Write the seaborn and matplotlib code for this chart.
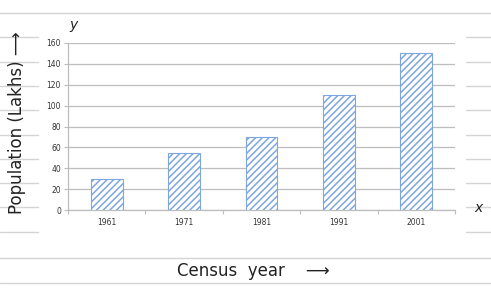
import matplotlib
matplotlib.use("Agg")
import matplotlib.pyplot as plt
import seaborn as sns
import pandas as pd
from matplotlib.lines import Line2D

years = ["1961", "1971", "1981", "1991", "2001"]
population = [30, 55, 70, 110, 150]
yticks = [0, 20, 40, 60, 80, 100, 120, 140, 160]

sns.set_style("white")
plt.rcParams["font.family"] = ["DejaVu Sans"]
plt.rcParams["hatch.linewidth"] = 1.1

df = pd.DataFrame({"year": years, "population": population})

fig = plt.figure(figsize=(4.91, 2.93), dpi=100)
fig.patch.set_facecolor("white")

# notebook ruled lines (decoration)
W, H = 491, 293
def hline(y, x0, x1):
    fig.add_artist(Line2D([x0 / W, x1 / W], [1 - y / H, 1 - y / H], color="#d4d4d4", lw=1.0, zorder=0))
hline(13, 0, 491)
hline(258, 0, 491)
hline(283, 0, 491)
for y in [37, 62, 86, 110, 135, 159, 183, 207, 232]:
    hline(y, 0, 38)
    hline(y, 466, 491)

ax = fig.add_axes([68 / W, 1 - 210 / H, (455 - 68) / W, (210 - 43) / H])
sns.barplot(data=df, x="year", y="population", color="white", width=0.41,
            edgecolor="#7ea6e0", linewidth=0.8, ax=ax, zorder=3)
for p in ax.patches:
    p.set_hatch("/////")
    p.set_facecolor("white")

ax.set_ylim(0, 160)
ax.set_xlim(-0.5, 4.5)
ax.set_yticks(yticks)
ax.set_yticklabels([str(v) for v in yticks])
ax.yaxis.grid(True, color="#bdbdbd", lw=0.9, zorder=0)
ax.set_axisbelow(True)
ax.set_xlabel("")
ax.set_ylabel("")
for s in ["top", "right"]:
    ax.spines[s].set_visible(False)
ax.spines["left"].set_color("#bdbdbd")
ax.spines["bottom"].set_color("#bdbdbd")
ax.spines["left"].set_linewidth(0.9)
ax.spines["bottom"].set_linewidth(0.9)
ax.tick_params(axis="y", length=3, width=0.8, color="#bdbdbd", labelsize=5.5, labelcolor="#333333", pad=2, left=True)
ax.tick_params(axis="x", length=0, labelsize=5.5, labelcolor="#333333", pad=6)
ax.set_xticks([-0.5, 0.5, 1.5, 2.5, 3.5, 4.5], minor=True)
ax.tick_params(axis="x", which="minor", length=3, width=0.8, color="#bdbdbd", bottom=True)

# handwritten-style annotations
fig.text(73 / W, 1 - 25 / H, "y", fontsize=10, color="#222222", ha="center", va="center", style="italic")
fig.text(478 / W, 1 - 208 / H, "x", fontsize=10, color="#222222", ha="center", va="center", style="italic")
fig.text(17 / W, 1 - 123 / H, "Population (Lakhs) \u27f6", fontsize=12, color="#222222",
         rotation=90, ha="center", va="center")
fig.text(253 / W, 1 - 271 / H, "Census  year    \u27f6", fontsize=12, color="#222222",
         ha="center", va="center")

fig.savefig("out.png", dpi=100, facecolor="white")
